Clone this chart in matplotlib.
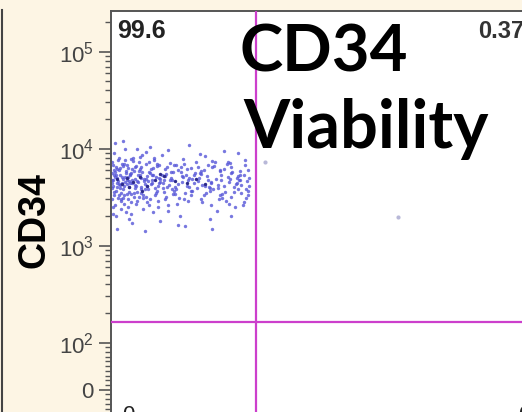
import matplotlib
matplotlib.use("Agg")
import matplotlib.pyplot as plt
from matplotlib.lines import Line2D

plt.rcParams['font.family'] = 'Liberation Sans'
plt.rcParams['mathtext.fontset'] = 'custom'
plt.rcParams['mathtext.rm'] = 'Liberation Sans'

### gated events: x = viability dye, y = CD34
live_x = [-33, -25, -17, -9, -1, 8, 17, 27, 38, 50, 63, 78, 94, 115, 145, 180, 225, 280, 345, 420,
          -35, -28, -20, -12, -4, 4, 13, 22, 33, 45, 57, 71, 87, 105, 130, 162, 200, 250, 310, 390,
          -31, -23, -15, -7, 2, 11, 20, 30, 41, 54, 67, 82, 99, 120, 152, 190, 236, 292, 360, 440,
          -34, -27, -19, -11, -3, 6, 15, 25, 36, 48, 60, 75, 91, 110, 138, 172, 212, 265, 330, 405,
          -32, -24, -16, -8, 0, 9, 18, 28, 39, 52, 65, 80, 96, 118, 148, 185, 230, 285, 352, 430,
          -35, -29, -21, -13, -5, 3, 12, 21, 32, 44, 56, 70, 85, 103, 127, 158, 196, 245, 305, 380,
          -30, -22, -14, -6, 3, 12, 22, 33, 44, 57, 70, 86, 103, 125, 158, 195, 242, 300, 370, 450,
          -33, -26, -18, -10, -2, 7, 16, 26, 37, 49, 61, 76, 92, 112, 140, 175, 218, 272, 338, 415,
          -34, -26, -18, -10, -2, 6, 14, 23, 34, 46, 58, 73, 89, 108, 134, 166, 206, 258, 320, 400,
          -31, -24, -16, -8, 1, 10, 19, 29, 40, 53, 66, 81, 97, 117, 150, 188, 232, 288, 355, 435,
          -29, -21, -13, -5, 4, 13, 23, 34, 46, 59, 72, 88, 106, 128, 162, 200, 248, 305, 375, 445,
          -35, -27, -19, -11, -3, 5, 14, 24, 35, 47, 59, 74, 90, 109, 136, 168, 210, 262, 325, 410,
          -32, -25, -17, -9, 0, 9, 18, 27, 38, 51, 64, 79, 95, 116, 146, 182, 226, 282, 348, 425,
          -34, -28, -20, -12, -4, 4, 13, 22, 32, 43, 55, 69, 84, 102, 126, 156, 194, 240, 298, 372,
          -30, -23, -15, -7, 2, 11, 21, 31, 42, 55, 68, 84, 101, 122, 155, 192, 238, 296, 366, 442,
          -25, 5, 30, 60, 110, 200, -12, 40, 120, 260, -30, 15, 75, 170, 350, 0, 95, 190, -33, 300]
live_y = [4100, 6200, 2900, 5100, 3600, 7400, 4500, 2400, 5800, 3300, 8600, 4200, 2700, 6100, 3900, 5200, 2300, 7000, 4400, 3100,
          5600, 2600, 8100, 3800, 4800, 2100, 6600, 3500, 9300, 4700, 2500, 5500, 3700, 7800, 4900, 2800, 6400, 3400, 5700, 2600,
          3300, 4600, 7000, 2200, 5300, 3900, 8200, 4300, 3000, 6900, 3600, 5000, 2000, 4000, 8900, 3700, 5900, 2700, 4800, 6000,
          7300, 3700, 5400, 2700, 6300, 4400, 2900, 5700, 3800, 7600, 4900, 2300, 6700, 3500, 5600, 4100, 7200, 3600, 2500, 5300,
          2500, 5000, 3500, 9800, 4000, 5900, 3200, 4900, 2600, 5100, 3900, 7100, 4300, 2900, 4600, 6800, 4200, 5100, 3800, 4600,
          4700, 11500, 4300, 3100, 6800, 3400, 4900, 6200, 3200, 5400, 4100, 3000, 5800, 4500, 3300, 5900, 2600, 4700, 6500, 3500,
          6000, 3100, 4400, 5600, 2800, 4200, 3800, 6900, 4400, 2900, 6100, 3400, 5200, 6300, 3000, 4500, 5400, 3200, 5900, 4100,
          4800, 2000, 6300, 4100, 3000, 8000, 5400, 3100, 4600, 8000, 4500, 2600, 3800, 5400, 7200, 3500, 4900, 2900, 4300, 7600,
          3000, 5300, 3900, 6900, 2500, 4700, 3600, 4000, 5200, 2200, 5000, 6400, 4000, 3000, 4400, 6000, 3800, 6200, 4000, 2800,
          5400, 4000, 2400, 4500, 5500, 3200, 7200, 4600, 5600, 3500, 4400, 5700, 3100, 4700, 5000, 4000, 3000, 4500, 5200, 3300,
          5100, 3300, 6600, 4300, 7800, 2700, 5000, 4100, 6300, 4400, 3200, 6800, 5100, 3700, 4200, 7400, 3100, 5600, 4200, 5000,
          3900, 6500, 4200, 3300, 5100, 6100, 4600, 8500, 2800, 5300, 6700, 4000, 3400, 7000, 5300, 3300, 6600, 4100, 3600, 6800,
          6700, 4400, 3000, 7700, 4600, 3500, 5900, 3300, 7300, 3900, 5300, 4800, 6000, 4100, 6400, 4800, 3900, 7300, 5000, 3800,
          4400, 5800, 6000, 4900, 3400, 5600, 4100, 6500, 4900, 6200, 3700, 5200, 4700, 5700, 3700, 5500, 4400, 3300, 7100, 4700,
          3600, 7700, 5100, 5900, 4400, 6500, 5300, 3800, 4300, 6600, 4700, 3800, 6400, 5000, 5600, 3900, 6000, 4900, 5400, 3700,
          1500, 1700, 1400, 1800, 1600, 1500, 12000, 10500, 11000, 9500, 9000, 10000, 9700, 8400, 9000, 1900, 1650, 1900, 2100, 2000]

# denser core of the population
core_x = [-15, -5, 8, 20, 35, 50, 68, 90, 115, 140, -25, 0, 60, 170, 25]
core_y = [4300, 5000, 4500, 5100, 4100, 4700, 5200, 4600, 4400, 4900, 4900, 4000, 5500, 4300, 3700]

# odd events outside the population
stray_x = [11800, 640]
stray_y = [1990, 7340]

gate_x = 526
gate_y = 164
quad_labels = ["99.6", "0.37"]

y_lo, y_hi = -92, 262144
y_major = [0, 1e2, 1e3, 1e4, 1e5]
y_labels = ["0", "$10^{2}$", "$10^{3}$", "$10^{4}$", "$10^{5}$"]

y_minor = [v for v in range(-90, 100, 10) if v != 0]
for d in [1e2, 1e3, 1e4, 1e5]:
    y_minor += [k * d for k in range(2, 10) if k * d < y_hi]

W, H = 522, 412
fig = plt.figure(figsize=(W / 100, H / 100), dpi=100)
fig.patch.set_facecolor('#fdf5e4')

# axes box in pixels: left 111, right 540, top 11, bottom 433
ax = fig.add_axes([111 / W, (H - 433) / H, 429 / W, 422 / H])
ax.set_facecolor('white')
ax.set_xscale('symlog', linthresh=100, linscale=0.4365)
ax.set_yscale('symlog', linthresh=100, linscale=0.4365)

ax.scatter(live_x, live_y, s=6, color='#5656d8', linewidths=0, alpha=0.8, zorder=2)
ax.scatter(core_x, core_y, s=6, color='#2c2a8c', linewidths=0, zorder=3)
ax.scatter(stray_x, stray_y, s=9, color='#b8b8d8', linewidths=0, zorder=2)

ax.axvline(gate_x, color='#cc3fcc', lw=1.6, zorder=4)
ax.axhline(gate_y, color='#cc3fcc', lw=1.6, zorder=4)

ax.set_yticks(y_major)
ax.set_yticklabels(y_labels, fontsize=16, color='#444444')
ax.set_yticks(y_minor, minor=True)
ax.tick_params(axis='y', which='major', length=8.5, width=1.2, color='#555555', pad=4)
ax.tick_params(axis='y', which='minor', length=4.3, width=1.0, color='#555555')
ax.set_xticks([])
ax.set_xticks([], minor=True)
ax.set_xlim(-36, 262144)
ax.set_ylim(y_lo, y_hi)
for s in ax.spines.values():
    s.set_color('#555555')
    s.set_linewidth(1.4)

# quadrant percentages
fig.text(117 / W, 1 - 19 / H, quad_labels[0], fontsize=18, fontweight='bold',
         color='#222222', ha='left', va='top')
fig.text(478 / W, 1 - 20 / H, quad_labels[1], fontsize=17, fontweight='bold',
         color='#333333', ha='left', va='top')

# axis title
fig.text(34 / W, 1 - 220 / H, "CD34", fontsize=27, fontweight='bold',
         rotation=90, ha='center', va='center', color='black')

# cut-off x tick labels at the bottom edge
fig.text(128 / W, 1 - 405 / H, "0", fontsize=16, color='#222222', ha='center', va='top')
fig.text(524 / W, 1 - 405 / H, "0", fontsize=16, color='#222222', ha='center', va='top')

# big annotation
fig.text(240 / W, 1 - 72 / H, "CD34", fontsize=47, fontweight='bold',
         family='Lato', color='black', ha='left', va='baseline')
fig.text(243 / W, 1 - 148 / H, "Viability", fontsize=48, fontweight='bold',
         family='Lato', color='black', ha='left', va='baseline')

# frame line on the left
fig.add_artist(Line2D([2 / W, 2 / W], [0, 1 - 10 / H], color='#444444', lw=1.5))

fig.savefig("out.png", dpi=100, facecolor=fig.get_facecolor())
